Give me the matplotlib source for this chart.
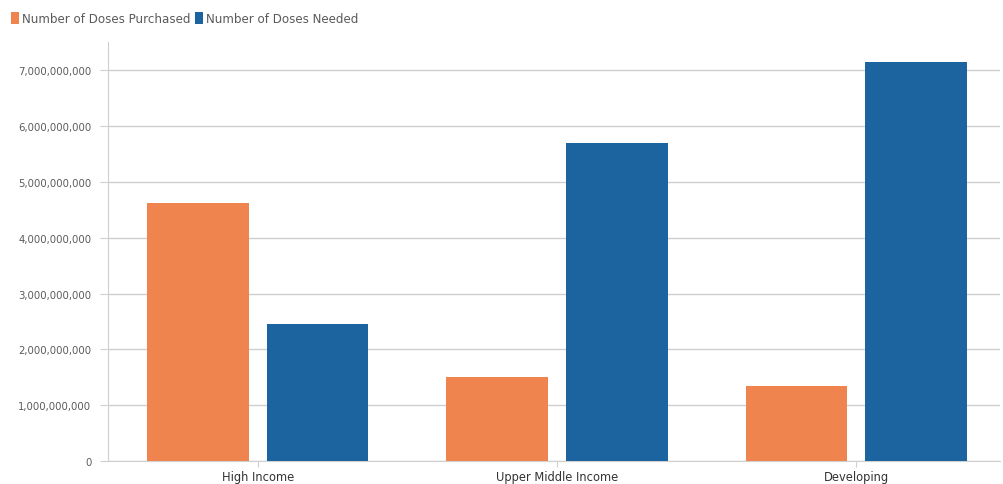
import matplotlib.pyplot as plt
import numpy as np
from matplotlib.ticker import FuncFormatter

# Vaccine doses by income group
categories = ["High Income", "Upper Middle Income", "Developing"]
doses_purchased = [4.62e9, 1.50e9, 1.35e9]
doses_needed = [2.46e9, 5.69e9, 7.15e9]
y_ticks = [0, 1e9, 2e9, 3e9, 4e9, 5e9, 6e9, 7e9]

orange = "#F0844F"
blue = "#1B64A0"
text_gray = "#5A5A5A"
grid_gray = "#CFCFCF"

plt.rcParams['font.family'] = ['DejaVu Sans']

fig = plt.figure(figsize=(10.04, 4.85), dpi=100)
ax = fig.add_axes([108 / 1004, 22.7 / 485, 892 / 1004, 419.3 / 485])

x = np.arange(len(categories))
w = 0.34
ax.bar(x - 0.2, doses_purchased, w, color=orange, label="Number of Doses Purchased", zorder=3)
ax.bar(x + 0.2, doses_needed, w, color=blue, label="Number of Doses Needed", zorder=3)

ax.set_xlim(-0.5, 2.48)
ax.set_ylim(0, 7.5e9)
ax.set_xticks(x)
ax.set_xticklabels(categories, fontsize=8.3, color="#333333")
ax.set_yticks(y_ticks)
ax.yaxis.set_major_formatter(FuncFormatter(lambda v, p: f"{int(v):,}"))
ax.tick_params(axis='y', labelsize=7.3, labelcolor=text_gray, length=6,
               color=grid_gray, pad=6)
ax.tick_params(axis='x', length=4, color=grid_gray, pad=2)

ax.grid(axis='y', color=grid_gray, linewidth=1, zorder=0)
for s in ['top', 'right']:
    ax.spines[s].set_visible(False)
ax.spines['left'].set_color(grid_gray)
ax.spines['bottom'].set_color(grid_gray)

fig.legend(loc='upper left', bbox_to_anchor=(0.003, 0.99), ncol=2, frameon=False,
           fontsize=8.6, handlelength=0.6, handleheight=1.1, handletextpad=0.3,
           columnspacing=0.4, labelcolor=text_gray, borderaxespad=0.3)

fig.savefig("out.png", dpi=100)
